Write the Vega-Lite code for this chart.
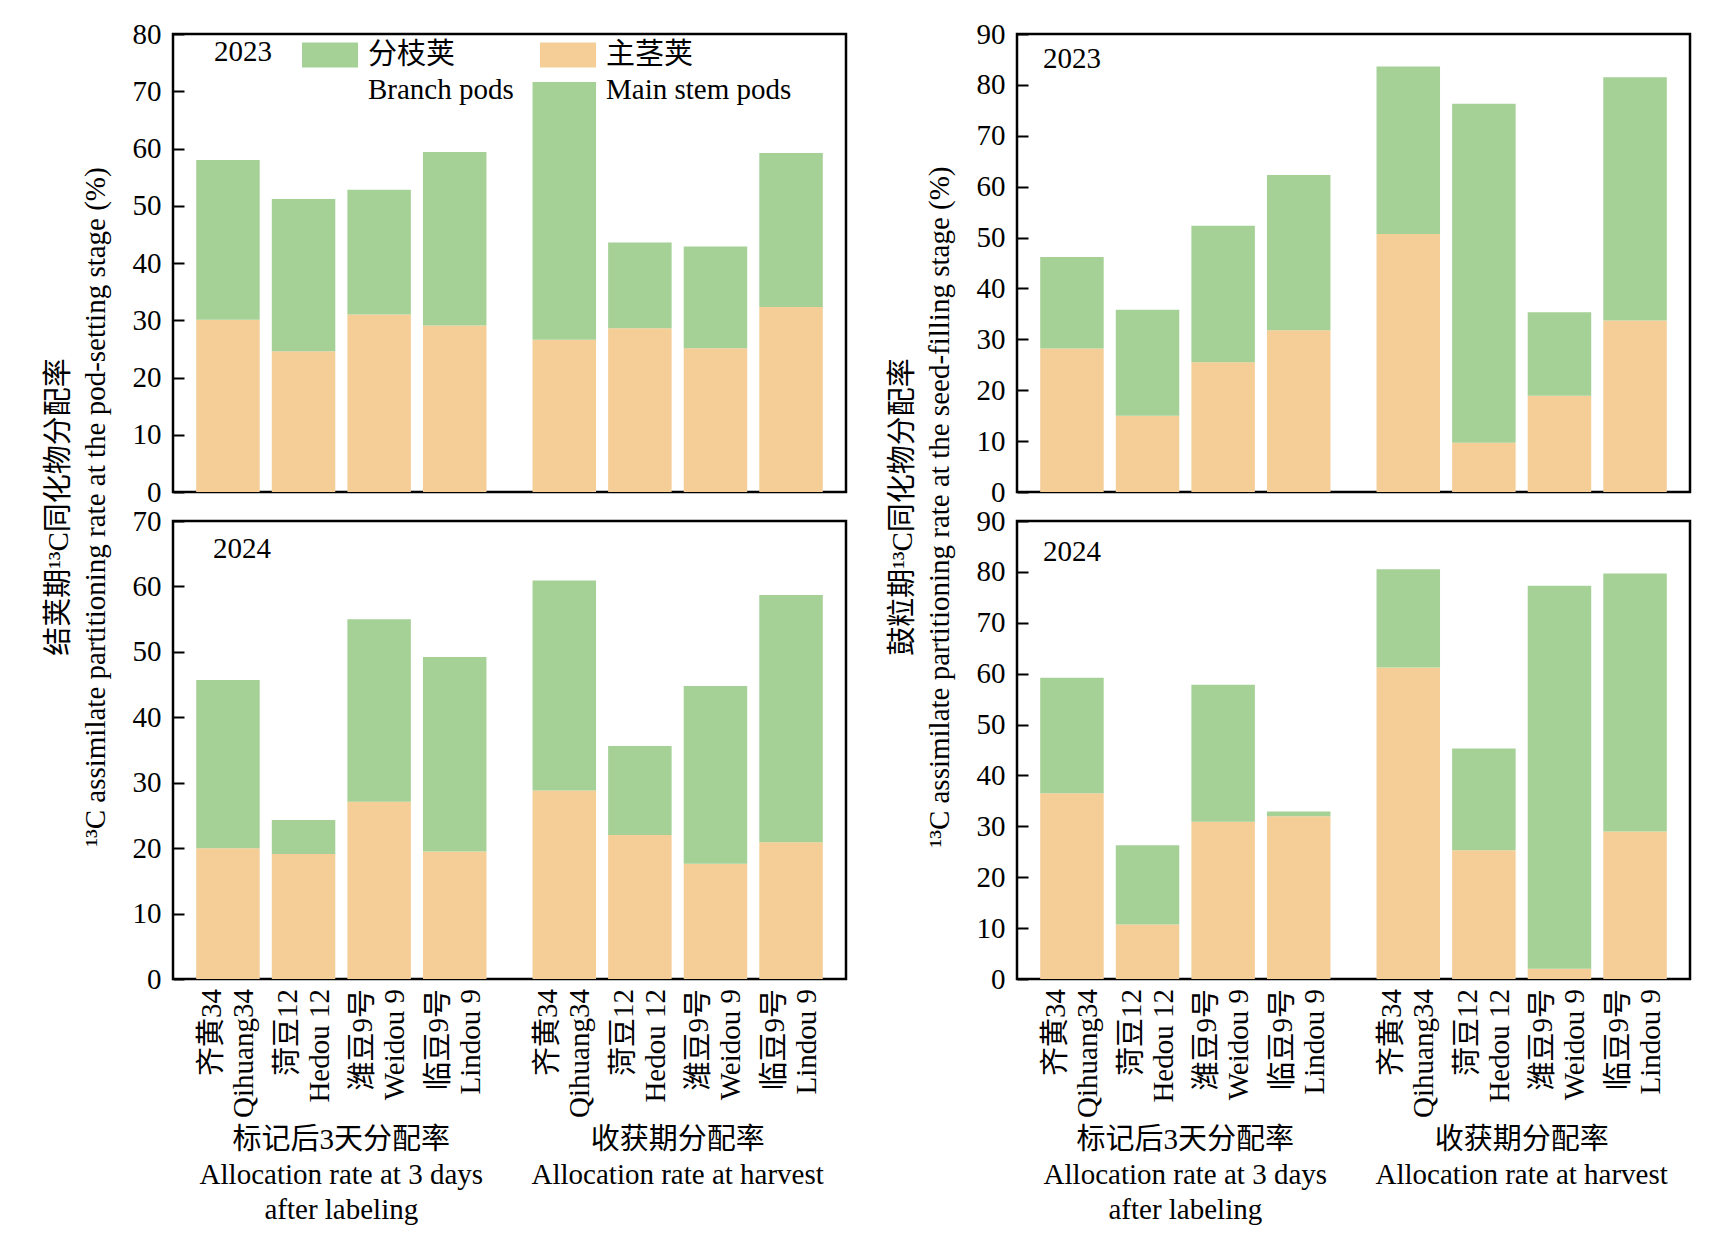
{
  "$schema": "https://vega.github.io/schema/vega-lite/v6.json",
  "padding": {"left": 42, "top": 18, "right": 10, "bottom": 10},
  "datasets": {
    "bars": [
      {"stage": "pod", "year": "2023", "period": "3d", "variety": "齐黄34\nQihuang34", "main": 30.1, "branch": 27.9},
      {"stage": "pod", "year": "2023", "period": "3d", "variety": "菏豆12\nHedou 12", "main": 24.6, "branch": 26.6},
      {"stage": "pod", "year": "2023", "period": "3d", "variety": "潍豆9号\nWeidou 9", "main": 31.0, "branch": 21.8},
      {"stage": "pod", "year": "2023", "period": "3d", "variety": "临豆9号\nLindou 9", "main": 29.1, "branch": 30.3},
      {"stage": "pod", "year": "2023", "period": "harvest", "variety": "齐黄34\nQihuang34", "main": 26.6, "branch": 45.0},
      {"stage": "pod", "year": "2023", "period": "harvest", "variety": "菏豆12\nHedou 12", "main": 28.6, "branch": 15.0},
      {"stage": "pod", "year": "2023", "period": "harvest", "variety": "潍豆9号\nWeidou 9", "main": 25.1, "branch": 17.8},
      {"stage": "pod", "year": "2023", "period": "harvest", "variety": "临豆9号\nLindou 9", "main": 32.3, "branch": 26.9},
      {"stage": "pod", "year": "2024", "period": "3d", "variety": "齐黄34\nQihuang34", "main": 20.0, "branch": 25.7},
      {"stage": "pod", "year": "2024", "period": "3d", "variety": "菏豆12\nHedou 12", "main": 19.1, "branch": 5.2},
      {"stage": "pod", "year": "2024", "period": "3d", "variety": "潍豆9号\nWeidou 9", "main": 27.1, "branch": 27.9},
      {"stage": "pod", "year": "2024", "period": "3d", "variety": "临豆9号\nLindou 9", "main": 19.5, "branch": 29.7},
      {"stage": "pod", "year": "2024", "period": "harvest", "variety": "齐黄34\nQihuang34", "main": 28.8, "branch": 32.1},
      {"stage": "pod", "year": "2024", "period": "harvest", "variety": "菏豆12\nHedou 12", "main": 22.0, "branch": 13.6},
      {"stage": "pod", "year": "2024", "period": "harvest", "variety": "潍豆9号\nWeidou 9", "main": 17.6, "branch": 27.2},
      {"stage": "pod", "year": "2024", "period": "harvest", "variety": "临豆9号\nLindou 9", "main": 20.9, "branch": 37.8},
      {"stage": "seed", "year": "2023", "period": "3d", "variety": "齐黄34\nQihuang34", "main": 28.2, "branch": 18.0},
      {"stage": "seed", "year": "2023", "period": "3d", "variety": "菏豆12\nHedou 12", "main": 15.0, "branch": 20.8},
      {"stage": "seed", "year": "2023", "period": "3d", "variety": "潍豆9号\nWeidou 9", "main": 25.5, "branch": 26.8},
      {"stage": "seed", "year": "2023", "period": "3d", "variety": "临豆9号\nLindou 9", "main": 31.8, "branch": 30.5},
      {"stage": "seed", "year": "2023", "period": "harvest", "variety": "齐黄34\nQihuang34", "main": 50.7, "branch": 32.9},
      {"stage": "seed", "year": "2023", "period": "harvest", "variety": "菏豆12\nHedou 12", "main": 9.7, "branch": 66.6},
      {"stage": "seed", "year": "2023", "period": "harvest", "variety": "潍豆9号\nWeidou 9", "main": 18.9, "branch": 16.4},
      {"stage": "seed", "year": "2023", "period": "harvest", "variety": "临豆9号\nLindou 9", "main": 33.7, "branch": 47.8},
      {"stage": "seed", "year": "2024", "period": "3d", "variety": "齐黄34\nQihuang34", "main": 36.5, "branch": 22.7},
      {"stage": "seed", "year": "2024", "period": "3d", "variety": "菏豆12\nHedou 12", "main": 10.7, "branch": 15.6},
      {"stage": "seed", "year": "2024", "period": "3d", "variety": "潍豆9号\nWeidou 9", "main": 30.9, "branch": 26.9},
      {"stage": "seed", "year": "2024", "period": "3d", "variety": "临豆9号\nLindou 9", "main": 32.0, "branch": 0.9},
      {"stage": "seed", "year": "2024", "period": "harvest", "variety": "齐黄34\nQihuang34", "main": 61.2, "branch": 19.3},
      {"stage": "seed", "year": "2024", "period": "harvest", "variety": "菏豆12\nHedou 12", "main": 25.3, "branch": 20.0},
      {"stage": "seed", "year": "2024", "period": "harvest", "variety": "潍豆9号\nWeidou 9", "main": 2.0, "branch": 75.3},
      {"stage": "seed", "year": "2024", "period": "harvest", "variety": "临豆9号\nLindou 9", "main": 29.0, "branch": 50.7}
    ]
  },
  "config": {
    "font": "Liberation Serif, Noto Sans CJK SC, serif",
    "view": {"stroke": "black", "strokeWidth": 2.5},
    "axis": {"labelFontSize": 29, "labelColor": "black", "grid": false, "domain": false, "title": null},
    "axisY": {"tickSize": -11, "tickWidth": 2, "tickColor": "black", "labelPadding": 23,
      "titleFontSize": 29, "titleFontWeight": "normal", "titleColor": "black", "titleAngle": 270, "titleAlign": "center", "titleBaseline": "middle", "titleLineHeight": 37, "titleX": -115, "titleY": 472.5},
    "axisX": {"ticks": false}
  },
  "spacing": 38,
  "resolve": {"legend": {"color": "independent"}},
  "hconcat": [
    {
      "spacing": 29,
      "bounds": "flush",
      "resolve": {"legend": {"color": "independent"}},
      "vconcat": [
        {
          "width": 673, "height": 458,
          "title": {"text": "2023", "orient": "top", "anchor": "start", "frame": "group", "offset": -70, "dx": 41, "fontSize": 29, "fontWeight": "normal", "baseline": "alphabetic", "color": "black"},
          "data": {"name": "bars"},
          "transform": [{"filter": "datum.stage == 'pod' && datum.year == '2023'"}, {"fold": ["main", "branch"], "as": ["part", "value"]}],
          "mark": "bar",
          "encoding": {
            "x": {"field": "period", "type": "nominal", "sort": ["3d", "harvest"], "scale": {"paddingInner": 0.137, "paddingOuter": 0.069}, "axis": null},
            "xOffset": {"field": "variety", "type": "nominal", "sort": null, "scale": {"paddingInner": 0.16, "paddingOuter": 0}},
            "y": {"field": "value", "type": "quantitative", "stack": "zero", "scale": {"domain": [0, 80], "nice": false},
              "axis": {"values": [0, 10, 20, 30, 40, 50, 60, 70, 80], "title": ["结荚期¹³C同化物分配率", "¹³C assimilate partitioning rate at the pod-setting stage (%)"]}},
            "color": {"field": "part", "type": "nominal", "scale": {"domain": ["branch", "main"], "range": ["#A5D196", "#F5CD97"]},
              "legend": {"orient": "none", "legendX": 129, "legendY": -7, "direction": "horizontal", "columns": 2, "title": null, "padding": 0,
                "symbolType": "M-1,-0.45H1V0.45H-1Z", "symbolSize": 3136, "symbolStrokeWidth": 0, "symbolOpacity": 1,
                "labelFontSize": 29, "labelColor": "black", "labelOffset": 10, "columnPadding": 26, "labelLimit": 400,
                "labelExpr": "datum.value == 'branch' ? ['分枝荚', 'Branch pods'] : ['主茎荚', 'Main stem pods']",
                "encode": {"labels": {"update": {"lineHeight": {"value": 35}}}}}},
            "order": {"field": "part", "sort": "descending"}
          }
        },
        {
          "width": 673, "height": 458,
          "title": {"text": "2024", "orient": "top", "anchor": "start", "frame": "group", "offset": -80, "dx": 40, "fontSize": 29, "fontWeight": "normal", "baseline": "alphabetic", "color": "black"},
          "data": {"name": "bars"},
          "transform": [{"filter": "datum.stage == 'pod' && datum.year == '2024'"}, {"fold": ["main", "branch"], "as": ["part", "value"]}],
          "encoding": {
            "x": {"field": "period", "type": "nominal", "sort": ["3d", "harvest"], "scale": {"paddingInner": 0.137, "paddingOuter": 0.069},
              "axis": {"labelExpr": "datum.value == '3d' ? ['标记后3天分配率', 'Allocation rate at 3 days', 'after labeling'] : ['收获期分配率', 'Allocation rate at harvest']", "labelAngle": 0, "labelBaseline": "top", "labelPadding": 146, "labelLineHeight": 35, "labelLimit": 500, "labelOverlap": false}},
            "xOffset": {"field": "variety", "type": "nominal", "sort": null, "scale": {"paddingInner": 0.16, "paddingOuter": 0}}
          },
          "layer": [
            {
              "mark": "bar",
              "encoding": {
                "y": {"field": "value", "type": "quantitative", "stack": "zero", "scale": {"domain": [0, 70], "nice": false}, "axis": {"values": [0, 10, 20, 30, 40, 50, 60, 70]}},
                "color": {"field": "part", "type": "nominal", "scale": {"domain": ["branch", "main"], "range": ["#A5D196", "#F5CD97"]}, "legend": null},
                "order": {"field": "part", "sort": "descending"}
              }
            },
            {
              "transform": [{"filter": "datum.part == 'main'"}],
              "mark": {"type": "text", "angle": 270, "align": "right", "baseline": "middle", "dx": -10, "dy": -16, "lineBreak": "\n", "lineHeight": 32, "fontSize": 29, "color": "black"},
              "encoding": {
                "y": {"datum": 0, "type": "quantitative"},
                "text": {"field": "variety", "type": "nominal"}
              }
            }
          ]
        }
      ]
    },
    {
      "spacing": 29,
      "bounds": "flush",
      "resolve": {"legend": {"color": "independent"}},
      "vconcat": [
        {
          "width": 673, "height": 458,
          "title": {"text": "2023", "orient": "top", "anchor": "start", "frame": "group", "offset": -77, "dx": 26, "fontSize": 29, "fontWeight": "normal", "baseline": "alphabetic", "color": "black"},
          "data": {"name": "bars"},
          "transform": [{"filter": "datum.stage == 'seed' && datum.year == '2023'"}, {"fold": ["main", "branch"], "as": ["part", "value"]}],
          "mark": "bar",
          "encoding": {
            "x": {"field": "period", "type": "nominal", "sort": ["3d", "harvest"], "scale": {"paddingInner": 0.137, "paddingOuter": 0.069}, "axis": null},
            "xOffset": {"field": "variety", "type": "nominal", "sort": null, "scale": {"paddingInner": 0.16, "paddingOuter": 0}},
            "y": {"field": "value", "type": "quantitative", "stack": "zero", "scale": {"domain": [0, 90], "nice": false},
              "axis": {"values": [0, 10, 20, 30, 40, 50, 60, 70, 80, 90], "title": ["鼓粒期¹³C同化物分配率", "¹³C assimilate partitioning rate at the seed-filling stage (%)"]}},
            "color": {"field": "part", "type": "nominal", "scale": {"domain": ["branch", "main"], "range": ["#A5D196", "#F5CD97"]}, "legend": null},
            "order": {"field": "part", "sort": "descending"}
          }
        },
        {
          "width": 673, "height": 458,
          "title": {"text": "2024", "orient": "top", "anchor": "start", "frame": "group", "offset": -83, "dx": 26, "fontSize": 29, "fontWeight": "normal", "baseline": "alphabetic", "color": "black"},
          "data": {"name": "bars"},
          "transform": [{"filter": "datum.stage == 'seed' && datum.year == '2024'"}, {"fold": ["main", "branch"], "as": ["part", "value"]}],
          "encoding": {
            "x": {"field": "period", "type": "nominal", "sort": ["3d", "harvest"], "scale": {"paddingInner": 0.137, "paddingOuter": 0.069},
              "axis": {"labelExpr": "datum.value == '3d' ? ['标记后3天分配率', 'Allocation rate at 3 days', 'after labeling'] : ['收获期分配率', 'Allocation rate at harvest']", "labelAngle": 0, "labelBaseline": "top", "labelPadding": 146, "labelLineHeight": 35, "labelLimit": 500, "labelOverlap": false}},
            "xOffset": {"field": "variety", "type": "nominal", "sort": null, "scale": {"paddingInner": 0.16, "paddingOuter": 0}}
          },
          "layer": [
            {
              "mark": "bar",
              "encoding": {
                "y": {"field": "value", "type": "quantitative", "stack": "zero", "scale": {"domain": [0, 90], "nice": false}, "axis": {"values": [0, 10, 20, 30, 40, 50, 60, 70, 80, 90]}},
                "color": {"field": "part", "type": "nominal", "scale": {"domain": ["branch", "main"], "range": ["#A5D196", "#F5CD97"]}, "legend": null},
                "order": {"field": "part", "sort": "descending"}
              }
            },
            {
              "transform": [{"filter": "datum.part == 'main'"}],
              "mark": {"type": "text", "angle": 270, "align": "right", "baseline": "middle", "dx": -10, "dy": -16, "lineBreak": "\n", "lineHeight": 32, "fontSize": 29, "color": "black"},
              "encoding": {
                "y": {"datum": 0, "type": "quantitative"},
                "text": {"field": "variety", "type": "nominal"}
              }
            }
          ]
        }
      ]
    }
  ]
}
